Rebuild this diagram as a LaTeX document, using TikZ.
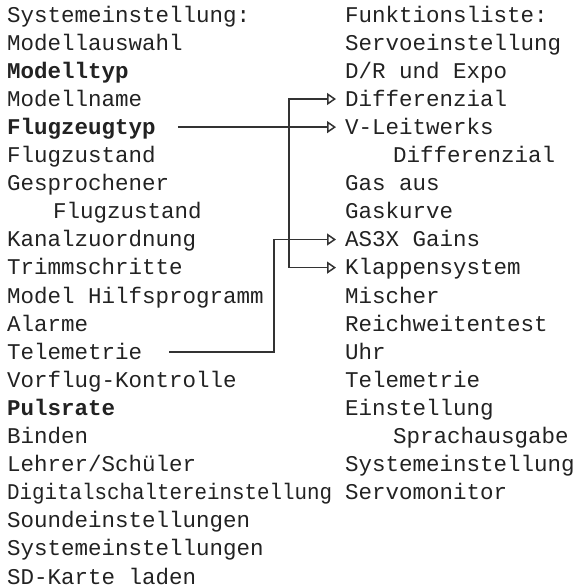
\documentclass[tikz,border=0pt]{standalone}
\usepackage{fontspec}
\usepackage{graphicx}
\usetikzlibrary{arrows.meta}
\newfontfamily\lcdfont{Liberation Mono}
\definecolor{txt}{HTML}{222222}
\definecolor{wire}{HTML}{333333}
\tikzset{
  item/.style={anchor=base west, inner sep=0pt, text=txt, font=\lcdfont\fontsize{22.5pt}{27pt}\selectfont},
  bolditem/.style={item, font=\lcdfont\bfseries\fontsize{22.5pt}{27pt}\selectfont},
  conn/.style={draw=wire, line width=1.5pt, -{Triangle[open, length=9pt, width=12pt]}}
}
\begin{document}
\begin{tikzpicture}[x=1pt,y=-1pt]
\useasboundingbox (0,0) rectangle (582,587);
% left column
\node[item]     (l1)  at (7,22.0)  {Systemeinstellung:};
\node[item]     (l2)  at (7,50.1)  {Modellauswahl};
\node[bolditem] (l3)  at (7,78.2)  {Modelltyp};
\node[item]     (l4)  at (7,106.3) {Modellname};
\node[bolditem] (flug) at (7,134.4) {Flugzeugtyp};
\node[item]     (l6)  at (7,162.5) {Flugzustand};
\node[item]     (l7)  at (7,190.6) {Gesprochener};
\node[item]     (l8)  at (53,218.7) {Flugzustand};
\node[item]     (l9)  at (7,246.8) {Kanalzuordnung};
\node[item]     (l10) at (7,274.9) {Trimmschritte};
\node[item]     (l11) at (7,303.0) {Model Hilfsprogramm};
\node[item]     (l12) at (7,331.1) {Alarme};
\node[item]     (telL) at (7,359.2) {Telemetrie};
\node[item]     (l14) at (7,387.3) {Vorflug-Kontrolle};
\node[bolditem] (l15) at (7,415.4) {Pulsrate};
\node[item]     (l16) at (7,443.5) {Binden};
\node[item]     (l17) at (7,471.6) {Lehrer/Schüler};
\node[item]     (l18) at (7,499.7) {\scalebox{0.926}[1]{Digitalschaltereinstellung}};
\node[item]     (l19) at (7,527.8) {Soundeinstellungen};
\node[item]     (l20) at (7,555.9) {Systemeinstellungen};
\node[item]     (l21) at (7,584.0) {SD-Karte laden};
% right column
\node[item] (r1)  at (345,22.0)  {Funktionsliste:};
\node[item] (r2)  at (345,50.1)  {Servoeinstellung};
\node[item] (r3)  at (345,78.2)  {D/R und Expo};
\node[item] (diff) at (345,106.3) {Differenzial};
\node[item] (vlw) at (345,134.4) {V-Leitwerks};
\node[item] (r6)  at (393,162.5) {Differenzial};
\node[item] (r7)  at (345,190.6) {Gas aus};
\node[item] (r8)  at (345,218.7) {Gaskurve};
\node[item] (as3x) at (345,246.8) {AS3X Gains};
\node[item] (klap) at (345,274.9) {Klappensystem};
\node[item] (r11) at (345,303.0) {Mischer};
\node[item] (r12) at (345,331.1) {Reichweitentest};
\node[item] (r13) at (345,359.2) {Uhr};
\node[item] (r14) at (345,387.3) {Telemetrie};
\node[item] (r15) at (345,415.4) {Einstellung};
\node[item] (r16) at (393,443.5) {Sprachausgabe};
\node[item] (r17) at (345,471.6) {Systemeinstellung};
\node[item] (r18) at (345,499.7) {Servomonitor};
% connector coordinates
\coordinate (tDiff) at ([xshift=-9pt,yshift=7.3pt]diff.base west);
\coordinate (tVlw)  at ([xshift=-9pt,yshift=7.3pt]vlw.base west);
\coordinate (tAS)   at ([xshift=-9pt,yshift=7.3pt]as3x.base west);
\coordinate (tKlap) at ([xshift=-9pt,yshift=7.3pt]klap.base west);
\coordinate (sFlug) at ([xshift=22pt,yshift=7.3pt]flug.base east);
\coordinate (sTel)  at ([xshift=27pt,yshift=7.3pt]telL.base east);
\coordinate (bx) at (289,0);
\coordinate (tx) at (274,0);
% connectors
\draw[conn] (bx |- tKlap) -- (tKlap);
\draw[conn] (bx |- tKlap) |- (tDiff);
\draw[conn] (sFlug) -- (tVlw);
\draw[conn] (sTel) -| (tx |- tAS) -- (tAS);
\end{tikzpicture}
\end{document}
